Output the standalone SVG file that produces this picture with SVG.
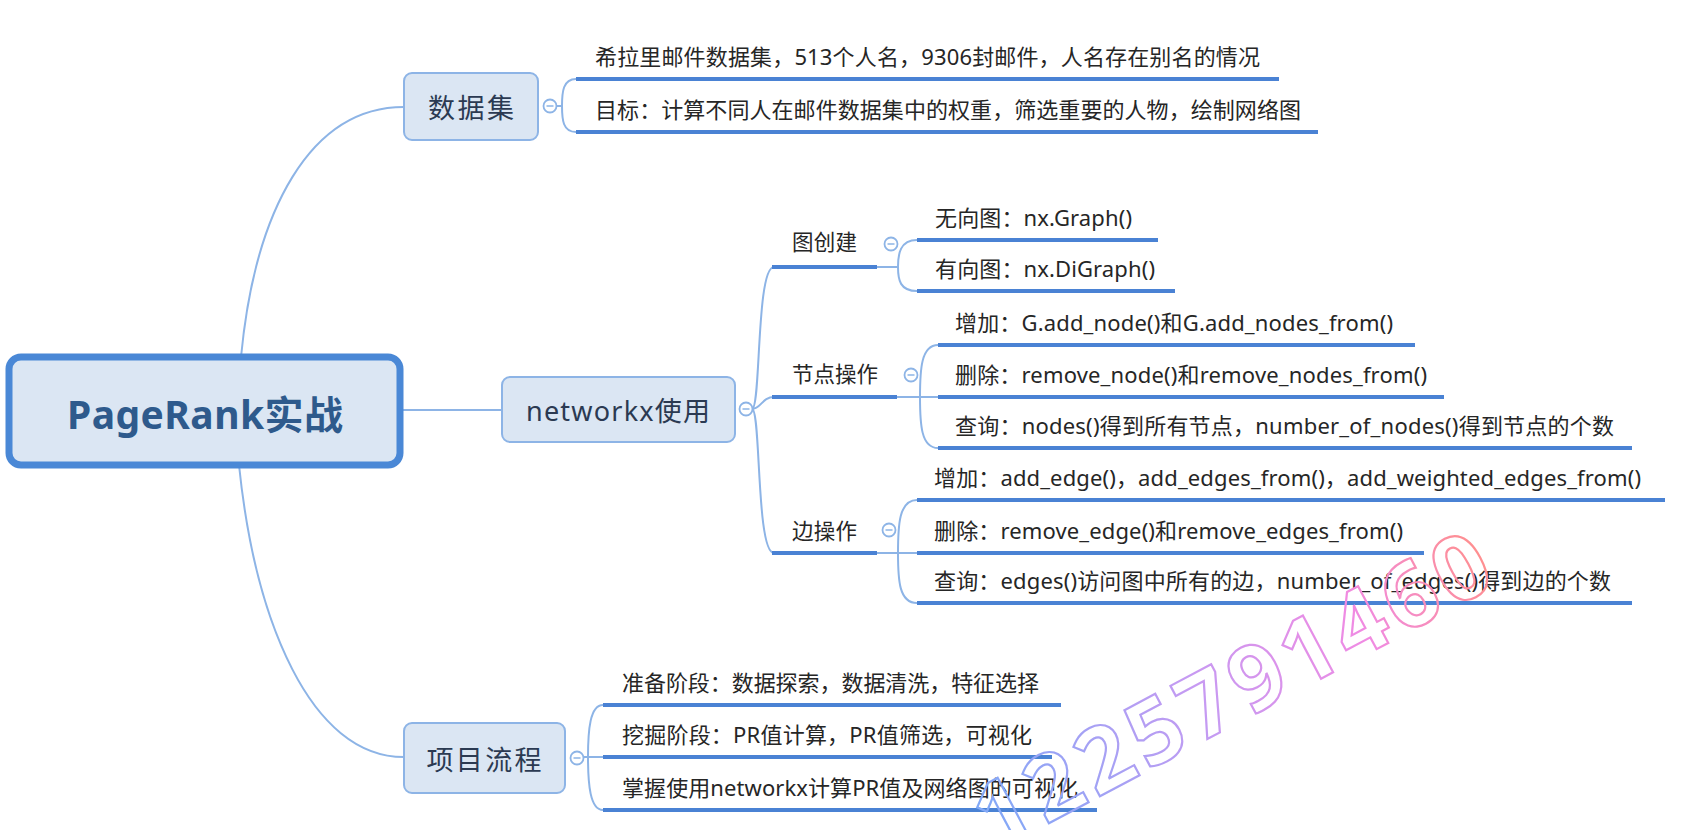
<svg xmlns="http://www.w3.org/2000/svg" width="1686" height="830" viewBox="0 0 1686 830">
<style>
.t{font-family:"Noto Sans","Noto Sans CJK SC",sans-serif;}
.leaf{font-size:22px;fill:#262626;}
.l2{font-size:21.5px;fill:#262626;}
.l1{font-size:27px;fill:#2b3a52;}
.root{font-size:39px;font-weight:bold;fill:#2e5a8c;}
.box{fill:#dbe6f3;stroke:#8db4e6;stroke-width:2;}
.rootbox{fill:#dbe6f3;stroke:#4a88d6;stroke-width:7;}
.thin{fill:none;stroke:#8db4e6;stroke-width:2;}
.bar{fill:none;stroke:#4a82d4;stroke-width:4;}
.col{fill:#fff;stroke:#8db4e6;stroke-width:1.8;}
.dash{stroke:#8db4e6;stroke-width:1.5;}
.wm{font-family:"Noto Sans",sans-serif;font-size:90px;font-weight:bold;fill:none;stroke-width:2.2;}
</style>
<defs>
<linearGradient id="wmg" gradientUnits="userSpaceOnUse" x1="0" y1="0" x2="570" y2="0">
<stop offset="0" stop-color="#7fa9f7"/>
<stop offset="0.45" stop-color="#c79af2"/>
<stop offset="0.75" stop-color="#f08be3"/>
<stop offset="1" stop-color="#ff8f8f"/>
</linearGradient>
</defs>

<g id="connectors">
<path class="thin" d="M241,357 C255,210 310,107 404,107"/>
<path class="thin" d="M239,465 C255,620 310,757 404,757"/>
<path class="thin" d="M403,410 L502,410"/>
<path class="thin" d="M556,106 L562,106 M576,79 C563,79 562,92 562,106 C562,120 563,132 576,132"/>
<path class="thin" d="M752,409 C761,409 756,267 774,267 M752,409 C761,409 756,553 774,553 M752,409 C761,409 762,397 774,397"/>
<path class="thin" d="M877,267 L898,267 M917,240 C900,240 898,254 898,267 C898,280 900,291 917,291"/>
<path class="thin" d="M897,397 L920,397 L938,397 M938,345 C921,345 920,370 920,397 C920,424 921,448 938,448"/>
<path class="thin" d="M877,553 L898,553 L917,553 M917,500 C899,500 898,525 898,553 C898,580 899,603 917,603"/>
<path class="thin" d="M583,757 L603,757 M603,705 C590,705 588,730 588,757 C588,784 590,810 603,810"/>
</g>

<g id="root">
<rect class="rootbox" x="9" y="357" width="391" height="108" rx="12"/>
<text class="t root" x="205" y="413" text-anchor="middle" dominant-baseline="central" textLength="276">PageRank实战</text>
</g>

<g id="n-dataset">
<rect class="box" x="404" y="73" width="134" height="67" rx="8"/>
<text class="t l1" x="471" y="107" text-anchor="middle" dominant-baseline="central" textLength="86">数据集</text>
<circle class="col" cx="550" cy="106" r="6.5"/><line class="dash" x1="546.5" y1="106" x2="553.5" y2="106"/>
</g>
<g id="leaf-d1">
<path class="bar" d="M576,79 L1279,79"/>
<text class="t leaf" x="595" y="65" textLength="665">希拉里邮件数据集，513个人名，9306封邮件，人名存在别名的情况</text>
</g>
<g id="leaf-d2">
<path class="bar" d="M576,132 L1318,132"/>
<text class="t leaf" x="595" y="118" textLength="706">目标：计算不同人在邮件数据集中的权重，筛选重要的人物，绘制网络图</text>
</g>

<g id="n-networkx">
<rect class="box" x="502" y="377" width="233" height="65" rx="8"/>
<text class="t l1" x="618" y="410" text-anchor="middle" dominant-baseline="central" textLength="184">networkx使用</text>
<circle class="col" cx="746" cy="409" r="6.5"/><line class="dash" x1="742.5" y1="409" x2="749.5" y2="409"/>
</g>

<g id="n-graph">
<path class="bar" d="M772,267 L877,267"/>
<text class="t l2" x="792" y="250" textLength="65">图创建</text>
<circle class="col" cx="891" cy="244" r="6.5"/><line class="dash" x1="887.5" y1="244" x2="894.5" y2="244"/>
</g>
<g id="leaf-g1">
<path class="bar" d="M917,240 L1158,240"/>
<text class="t leaf" x="935" y="226" textLength="197">无向图：nx.Graph()</text>
</g>
<g id="leaf-g2">
<path class="bar" d="M917,291 L1175,291"/>
<text class="t leaf" x="935" y="277" textLength="220">有向图：nx.DiGraph()</text>
</g>

<g id="n-node">
<path class="bar" d="M772,397 L897,397"/>
<text class="t l2" x="792" y="382" textLength="86">节点操作</text>
<circle class="col" cx="911" cy="375" r="6.5"/><line class="dash" x1="907.5" y1="375" x2="914.5" y2="375"/>
</g>
<g id="leaf-n1">
<path class="bar" d="M938,345 L1415,345"/>
<text class="t leaf" x="955" y="331" textLength="438">增加：G.add_node()和G.add_nodes_from()</text>
</g>
<g id="leaf-n2">
<path class="bar" d="M938,397 L1444,397"/>
<text class="t leaf" x="955" y="383" textLength="472">删除：remove_node()和remove_nodes_from()</text>
</g>
<g id="leaf-n3">
<path class="bar" d="M938,448 L1632,448"/>
<text class="t leaf" x="955" y="434" textLength="659">查询：nodes()得到所有节点，number_of_nodes()得到节点的个数</text>
</g>

<g id="n-edge">
<path class="bar" d="M772,553 L877,553"/>
<text class="t l2" x="792" y="539" textLength="65">边操作</text>
<circle class="col" cx="889" cy="530" r="6.5"/><line class="dash" x1="885.5" y1="530" x2="892.5" y2="530"/>
</g>
<g id="leaf-e1">
<path class="bar" d="M917,500 L1665,500"/>
<text class="t leaf" x="934" y="486" textLength="707">增加：add_edge()，add_edges_from()，add_weighted_edges_from()</text>
</g>
<g id="leaf-e2">
<path class="bar" d="M917,553 L1424,553"/>
<text class="t leaf" x="934" y="539" textLength="469">删除：remove_edge()和remove_edges_from()</text>
</g>
<g id="leaf-e3">
<path class="bar" d="M917,603 L1632,603"/>
<text class="t leaf" x="934" y="589" textLength="677">查询：edges()访问图中所有的边，number_of_edges()得到边的个数</text>
</g>

<g id="n-process">
<rect class="box" x="404" y="723" width="161" height="70" rx="8"/>
<text class="t l1" x="484" y="759" text-anchor="middle" dominant-baseline="central" textLength="115">项目流程</text>
<circle class="col" cx="577" cy="758" r="6.5"/><line class="dash" x1="573.5" y1="758" x2="580.5" y2="758"/>
</g>
<g id="leaf-p1">
<path class="bar" d="M603,705 L1061,705"/>
<text class="t leaf" x="622" y="691" textLength="417">准备阶段：数据探索，数据清洗，特征选择</text>
</g>
<g id="leaf-p2">
<path class="bar" d="M603,757 L1052,757"/>
<text class="t leaf" x="622" y="743" textLength="410">挖掘阶段：PR值计算，PR值筛选，可视化</text>
</g>
<g id="leaf-p3">
<path class="bar" d="M603,810 L1097,810"/>
<text class="t leaf" x="622" y="796" textLength="456">掌握使用networkx计算PR值及网络图的可视化</text>
</g>

<text class="wm" transform="translate(995,852) rotate(-28)" stroke="url(#wmg)" textLength="570">1225791460</text>
</svg>
